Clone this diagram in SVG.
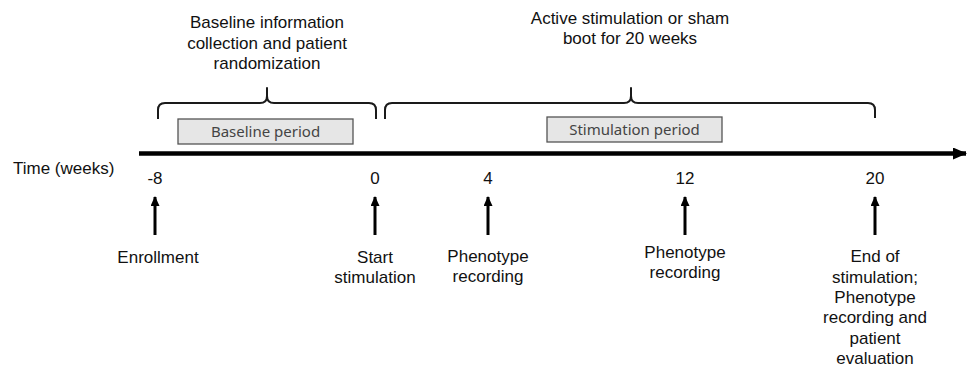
<svg xmlns="http://www.w3.org/2000/svg" width="968" height="370" viewBox="0 0 968 370">
  <style>
    .lbl { font-family: "Liberation Sans", Arial, sans-serif; font-size: 17px; fill: #111; text-anchor: middle; }
    .lft { text-anchor: start; }
    .brace { fill: none; stroke: #1a1a1a; stroke-width: 2; stroke-linejoin: round; }
    .period rect { fill: #e6e6e6; stroke: #555; stroke-width: 1.3; }
    .period text { font-family: "Noto Sans", "Open Sans", sans-serif; font-size: 15px; fill: #444; text-anchor: middle; }
    .tick { stroke: #000; stroke-width: 3; }
    .axis { stroke: #000; stroke-width: 4.5; }
  </style>
  <defs>
    <marker id="tickHead" viewBox="0 0 10 9" refX="9" refY="4.5" markerUnits="userSpaceOnUse" markerWidth="10" markerHeight="9" orient="auto">
      <path d="M0,0 L10,4.5 L0,9 Z" fill="#000"/>
    </marker>
    <marker id="axisHead" viewBox="0 0 14 12" refX="13" refY="6" markerUnits="userSpaceOnUse" markerWidth="14" markerHeight="12" orient="auto">
      <path d="M0,0 L14,6 L0,12 Z" fill="#000"/>
    </marker>
  </defs>

  <!-- Phase descriptions above the braces -->
  <g id="baseline-note">
    <text class="lbl" x="267" y="28">Baseline information</text>
    <text class="lbl" x="267" y="48.5">collection and patient</text>
    <text class="lbl" x="267" y="69">randomization</text>
  </g>
  <g id="stimulation-note">
    <text class="lbl" x="630" y="23.5">Active stimulation or sham</text>
    <text class="lbl" x="630" y="44">boot for 20 weeks</text>
  </g>

  <!-- Curly braces spanning each phase -->
  <g id="baseline-brace">
    <path class="brace" d="M158,119 L158,110 Q158,103 165,103 L260,103 Q267,103 267,96 L267,88 L267,96 Q267,103 274,103 L369,103 Q376,103 376,110 L376,119"/>
  </g>
  <g id="stimulation-brace">
    <path class="brace" d="M385,119 L385,110 Q385,103 392,103 L624,103 Q631,103 631,96 L631,88 L631,96 Q631,103 638,103 L868,103 Q875,103 875,110 L875,118"/>
  </g>

  <!-- Period boxes -->
  <g id="baseline-period" class="period">
    <rect x="178" y="119" width="175" height="25"/>
    <text x="265.5" y="137">Baseline period</text>
  </g>
  <g id="stimulation-period" class="period">
    <rect x="547" y="117" width="175" height="25"/>
    <text x="634.5" y="135">Stimulation period</text>
  </g>

  <!-- Time axis -->
  <g id="axis-label">
    <text class="lbl lft" x="13" y="174">Time (weeks)</text>
  </g>

  <g id="connectors">
    <line class="axis" x1="139" y1="153.5" x2="966" y2="153.5" marker-end="url(#axisHead)"/>
    <line class="tick" x1="155" y1="235" x2="155" y2="197" marker-end="url(#tickHead)"/>
    <line class="tick" x1="375" y1="235" x2="375" y2="197" marker-end="url(#tickHead)"/>
    <line class="tick" x1="488" y1="235" x2="488" y2="197" marker-end="url(#tickHead)"/>
    <line class="tick" x1="685" y1="235" x2="685" y2="197" marker-end="url(#tickHead)"/>
    <line class="tick" x1="875" y1="235" x2="875" y2="197" marker-end="url(#tickHead)"/>
  </g>

  <!-- Milestones -->
  <g id="week-minus8">
    <text class="lbl" x="155" y="184">-8</text>
    <text class="lbl" x="158" y="263">Enrollment</text>
  </g>
  <g id="week-0">
    <text class="lbl" x="375" y="184">0</text>
    <text class="lbl" x="375" y="263">Start</text>
    <text class="lbl" x="375" y="283">stimulation</text>
  </g>
  <g id="week-4">
    <text class="lbl" x="488" y="184">4</text>
    <text class="lbl" x="488" y="262">Phenotype</text>
    <text class="lbl" x="488" y="282">recording</text>
  </g>
  <g id="week-12">
    <text class="lbl" x="685" y="184">12</text>
    <text class="lbl" x="685" y="258">Phenotype</text>
    <text class="lbl" x="685" y="278">recording</text>
  </g>
  <g id="week-20">
    <text class="lbl" x="875" y="184">20</text>
    <text class="lbl" x="875" y="262">End of</text>
    <text class="lbl" x="875" y="282.5">stimulation;</text>
    <text class="lbl" x="875" y="303">Phenotype</text>
    <text class="lbl" x="875" y="323">recording and</text>
    <text class="lbl" x="875" y="343.5">patient</text>
    <text class="lbl" x="875" y="364">evaluation</text>
  </g>
</svg>
